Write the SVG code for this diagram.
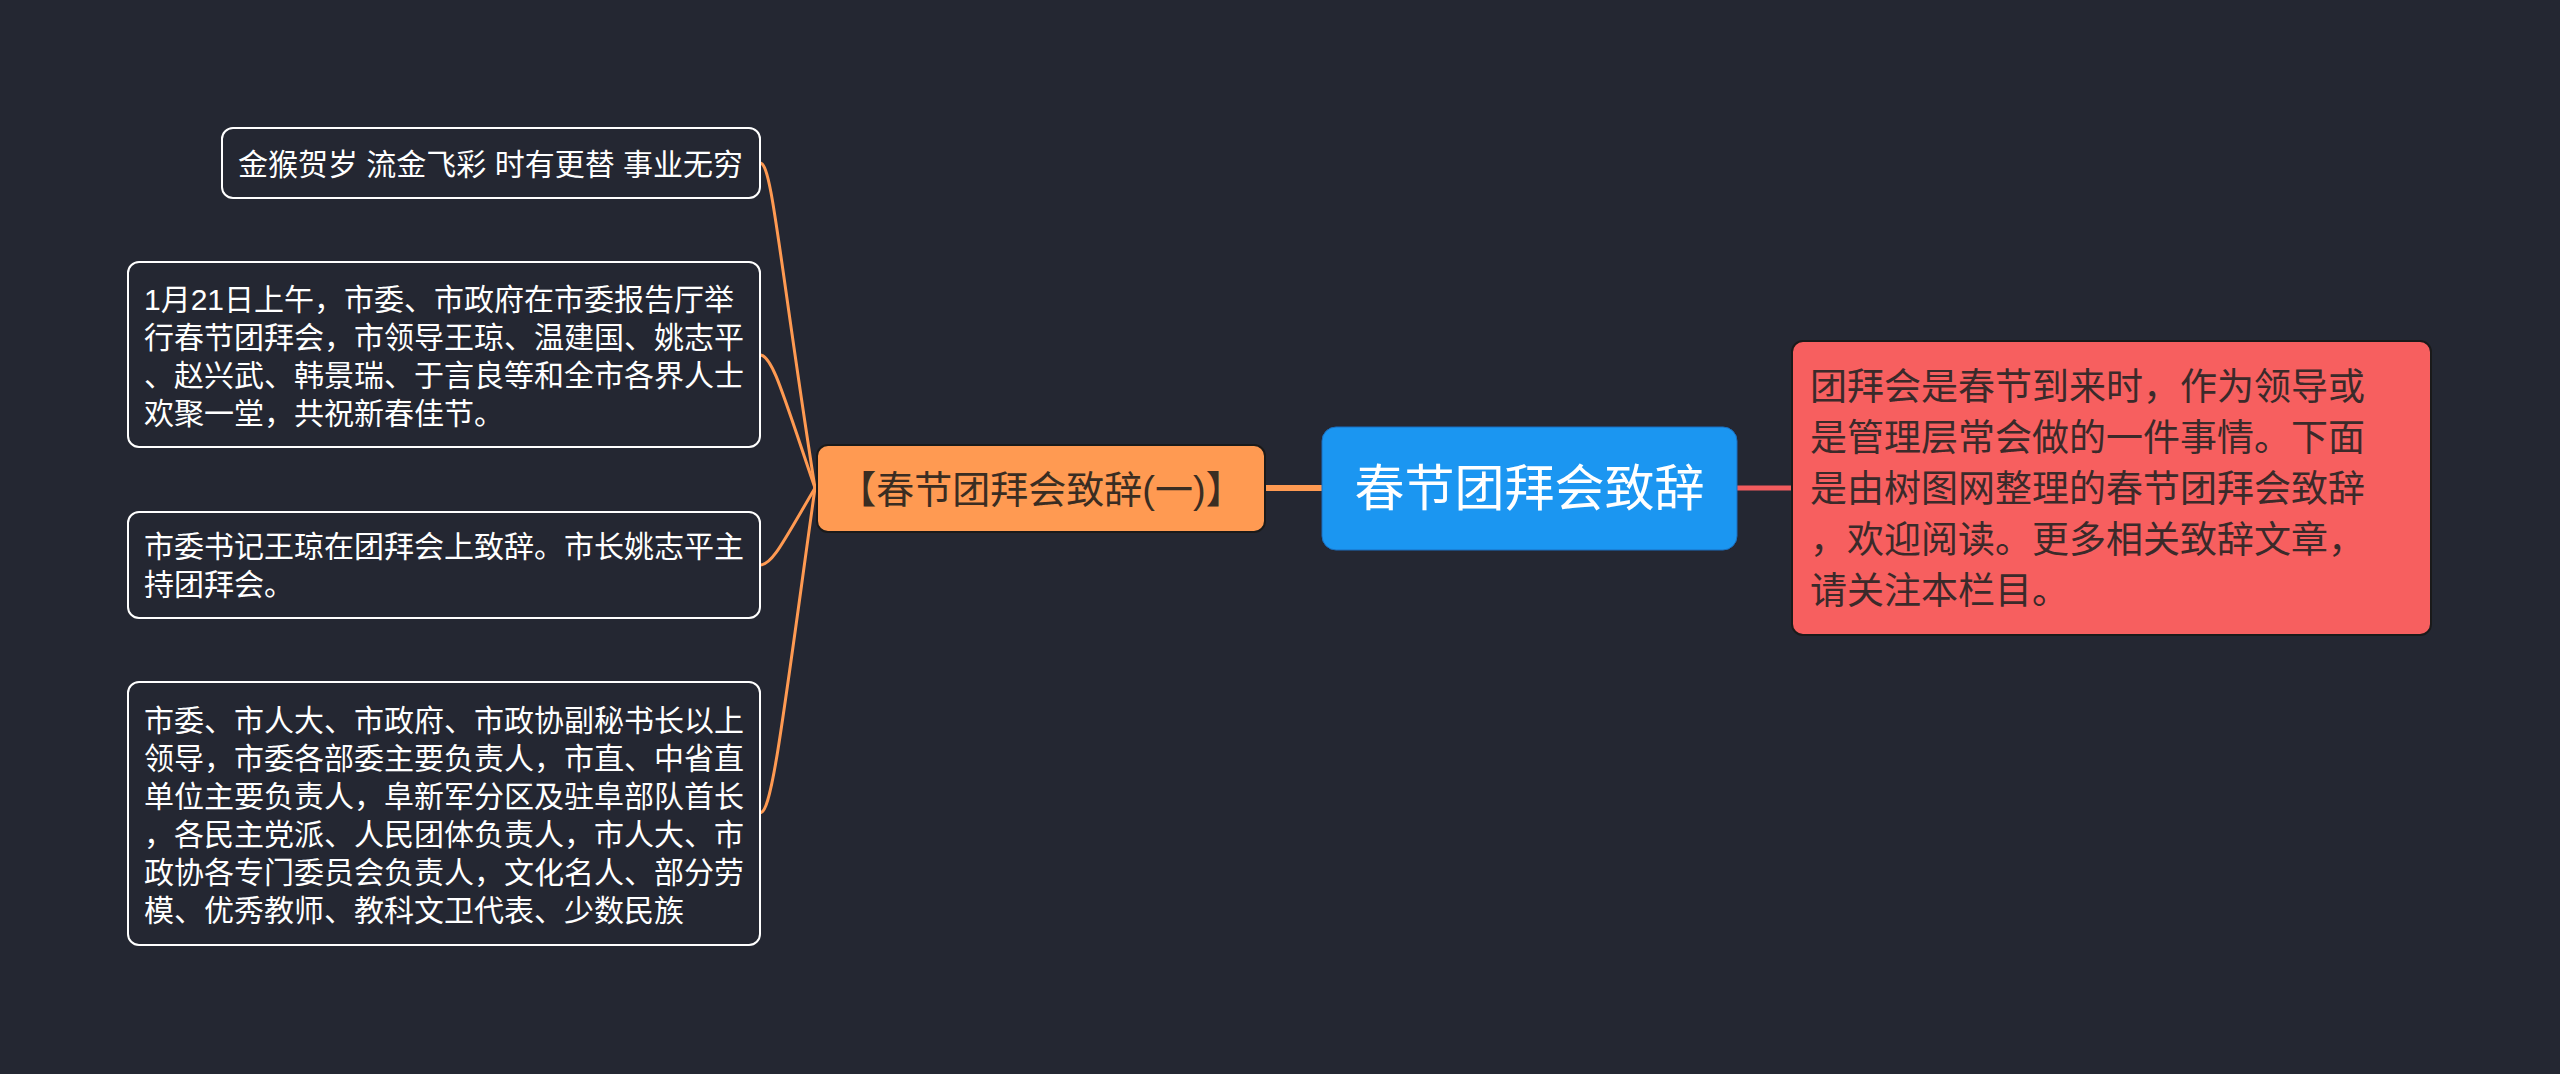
<svg xmlns="http://www.w3.org/2000/svg" width="2560" height="1074" viewBox="0 0 2560 1074">
<style>
text{font-family:"Liberation Sans","Noto Sans CJK SC",sans-serif;}
.leaf rect{fill:#242732;stroke:#ffffff;stroke-width:2;}
.leaf text{fill:#ffffff;font-size:30px;}
.curve{fill:none;stroke:#ff9a52;stroke-width:3;stroke-linecap:round;}
</style>
<rect x="0" y="0" width="2560" height="1074" fill="#242732"/>
<g id="connectors">
<path class="curve" d="M760,163 C772,163 778,251 815,488"/>
<path class="curve" d="M760,355 C772,355 782,391 815,488"/>
<path class="curve" d="M760,565 C772,565 782,544 815,488"/>
<path class="curve" d="M760,813 C772,813 782,725 815,488"/>
<line x1="1265" y1="488" x2="1322" y2="488" stroke="#ff9a52" stroke-width="6"/>
<line x1="1737" y1="488" x2="1792" y2="488" stroke="#f25c5e" stroke-width="5"/>
</g>
<g id="n1" class="leaf">
<rect x="222" y="128" width="538" height="70" rx="11"/>
<text x="238" y="175">金猴贺岁 流金飞彩 时有更替 事业无穷</text>
</g>
<g id="n2" class="leaf">
<rect x="128" y="262" width="632" height="185" rx="11"/>
<text x="144" y="310">1月21日上午，市委、市政府在市委报告厅举</text>
<text x="144" y="348">行春节团拜会，市领导王琼、温建国、姚志平</text>
<text x="144" y="386">、赵兴武、韩景瑞、于言良等和全市各界人士</text>
<text x="144" y="424">欢聚一堂，共祝新春佳节。</text>
</g>
<g id="n3" class="leaf">
<rect x="128" y="512" width="632" height="106" rx="11"/>
<text x="144" y="557">市委书记王琼在团拜会上致辞。市长姚志平主</text>
<text x="144" y="595">持团拜会。</text>
</g>
<g id="n4" class="leaf">
<rect x="128" y="682" width="632" height="263" rx="11"/>
<text x="144" y="731">市委、市人大、市政府、市政协副秘书长以上</text>
<text x="144" y="769">领导，市委各部委主要负责人，市直、中省直</text>
<text x="144" y="807">单位主要负责人，阜新军分区及驻阜部队首长</text>
<text x="144" y="845">，各民主党派、人民团体负责人，市人大、市</text>
<text x="144" y="883">政协各专门委员会负责人，文化名人、部分劳</text>
<text x="144" y="921">模、优秀教师、教科文卫代表、少数民族</text>
</g>
<g id="n5">
<rect x="817" y="445" width="448" height="87" rx="11" fill="#ff9a52" stroke="#1a1a1a" stroke-width="2"/>
<text x="1041" y="503" text-anchor="middle" font-size="38" fill="#3a2d22">【春节团拜会致辞(一)】</text>
</g>
<g id="root">
<rect x="1322" y="427" width="415" height="123" rx="14" fill="#1b96f1" stroke="#1a6fc0" stroke-width="1"/>
<text x="1529.5" y="506" text-anchor="middle" font-size="50" fill="#ffffff">春节团拜会致辞</text>
</g>
<g id="n6">
<rect x="1792" y="341" width="639" height="294" rx="11" fill="#f75f5f" stroke="#1a1a1a" stroke-width="2"/>
<g font-size="37" fill="#3b2a2a">
<text x="1810" y="400">团拜会是春节到来时，作为领导或</text>
<text x="1810" y="451">是管理层常会做的一件事情。下面</text>
<text x="1810" y="502">是由树图网整理的春节团拜会致辞</text>
<text x="1810" y="553">，欢迎阅读。更多相关致辞文章，</text>
<text x="1810" y="604">请关注本栏目。</text>
</g>
</g>
</svg>
